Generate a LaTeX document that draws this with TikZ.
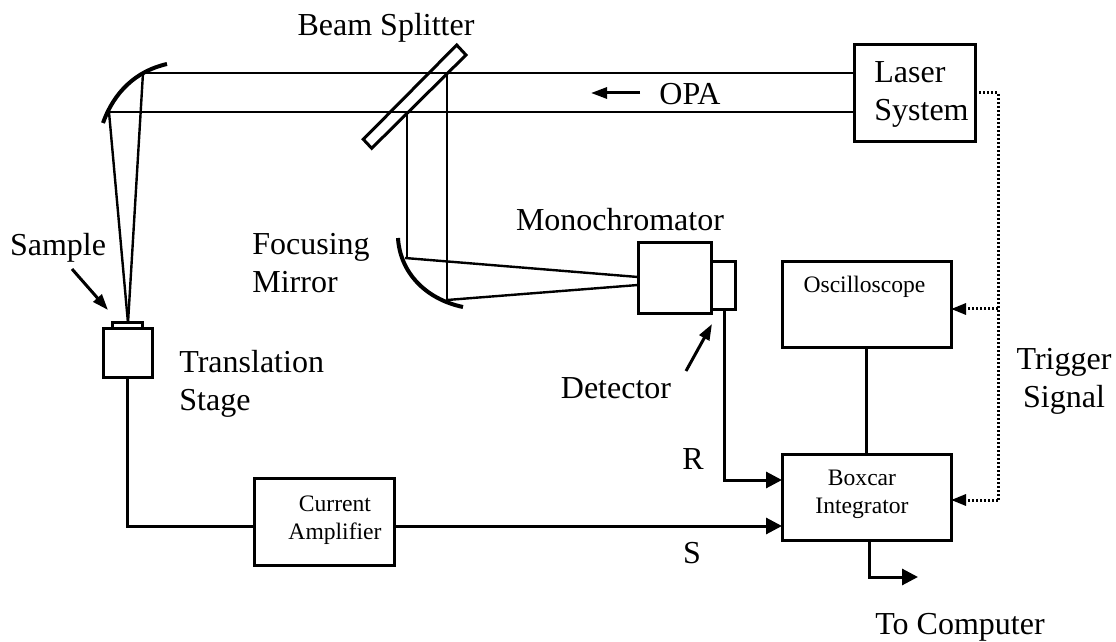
\documentclass[tikz,border=0pt]{standalone}
\usepackage{fontspec}
\setmainfont{Liberation Serif}
\usetikzlibrary{arrows.meta, positioning, calc}

\begin{document}
\begin{tikzpicture}[
    x=0.5pt, y=-0.5pt,
    node distance=0pt,
    box/.style={draw, line width=1.5pt, inner sep=0pt, outer sep=0pt},
    bigtxt/.style={font=\fontsize{16}{19}\selectfont, align=center, inner sep=0pt},
    smalltxt/.style={font=\fontsize{11.8}{14}\selectfont, align=center, inner sep=0pt},
    beam/.style={line width=1.2pt},
    wire/.style={line width=1.5pt},
    mirror/.style={line width=2pt},
    arr/.style={wire, -{Triangle[length=8pt, width=8pt]}},
    trig/.style={line width=1.5pt, dash pattern=on 1pt off 1pt},
    trigarr/.style={trig, -{Triangle[length=7.5pt, width=5.5pt]}},
    ptr/.style={wire, -{Triangle[length=8pt, width=5.5pt]}},
  ]
  \useasboundingbox (0,0) rectangle (1116,642);
  % boxes
  \node[box, minimum width=24.5pt, minimum height=24.5pt] (stage) at (127.5,353.5) {};
  \node[box, minimum width=15pt, minimum height=3pt, above=0pt of stage] (samp) {};
  \node[box, minimum width=60.5pt, minimum height=48.5pt] (laser) at (914.5,93.5) {};
  \node[box, minimum width=36.5pt, minimum height=35.5pt] (mono) at (674.5,278.5) {};
  \node[box, minimum width=12pt, minimum height=24pt, anchor=south west] (det) at (mono.east |- 0,310) {};
  \node[box, minimum width=84.5pt, minimum height=43pt] (scope) at (866.5,305) {};
  \node[box, minimum width=84.5pt, minimum height=43pt, below=53pt of scope] (boxcar) {};
  \node[box, minimum width=70pt, minimum height=43.5pt] (amp) at (324.5,521.5) {};
  % texts in the boxes
  \node[bigtxt, align=left, anchor=west] (lasertxt) at (874,94) {Laser\\System};
  \node[smalltxt] (scopetxt) at (864.5,287) {Oscilloscope};
  \node[smalltxt] (boxcartxt) at (862,494) {Boxcar\\Integrator};
  \node[smalltxt] (amptxt) at (335,520) {Current\\Amplifier};
  % coordinates of the optics
  \coordinate (m1a) at (143,73);
  \coordinate (m1b) at (109,112);
  \coordinate (m2a) at (405,258);
  \coordinate (m2b) at (447,300);
  \coordinate (spot) at (128,323);
  \coordinate (ma) at (638,277);
  \coordinate (mb) at (638,285);
  \coordinate (cornerR) at (724,480);
  \coordinate (cornerA) at (127.5,526);
  \coordinate (out1) at (869,577);
  \coordinate (outend) at (918,577);
  \coordinate (trigA) at (998,93);
  \coordinate (trigB) at (998,309);
  \coordinate (trigC) at (998,500);
  % mirrors
  \draw[mirror] (103,123) .. controls (114,92) and (136,71) .. (167,64);
  \draw[mirror] (398,238) .. controls (400,272) and (425,299) .. (463,307);
  % splitter
  \draw[wire] (456.7,45) -- (466,55) -- (371.7,148.3) -- (363.3,139.3) -- cycle;
  % beams
  \draw[beam] (m1a) -- (m1a -| laser.west);
  \draw[beam] (m1b) -- (m1b -| laser.west);
  \draw[beam] (m1a) -- (spot);
  \draw[beam] (m1b) -- (spot);
  \draw[beam] (406.7,113) -- (406.7,258);
  \draw[beam] (447,73) -- (m2b);
  \draw[beam] (m2a) -- (ma);
  \draw[beam] (m2b) -- (mb);
  % signals
  \draw[wire] (stage.south) -- (cornerA) -- (amp.west |- cornerA);
  \draw[arr] (amp.east |- cornerA) -- (boxcar.west |- cornerA);
  \draw[arr] (det.south -| cornerR) -- (cornerR) -- (boxcar.west |- cornerR);
  \draw[wire] (scope.south) -- (boxcar.north);
  \draw[arr] (boxcar.south -| out1) -- (out1) -- (outend);
  \draw[trig] (laser.east |- trigA) -- (trigA) -- (trigC);
  \draw[trigarr] (trigB) -- (scope.east |- trigB);
  \draw[trigarr] (trigC) -- (boxcar.east |- trigC);
  % pointers
  \coordinate (opaA) at (640,93);
  \coordinate (opaB) at (591,93);
  \draw[ptr] (opaA) -- (opaB);
  \coordinate (sampA) at (72,269);
  \coordinate (sampB) at (108,310);
  \draw[ptr] (sampA) -- (sampB);
  \coordinate (detA) at (686,371);
  \coordinate (detB) at (712,324);
  \draw[ptr] (detA) -- (detB);
  % labels
  \node[bigtxt] (lsplit) at (386,28) {Beam Splitter};
  \node[bigtxt] (lopa) at (690,94) {OPA};
  \node[bigtxt] (lsample) at (58,248) {Sample};
  \node[bigtxt, align=left, anchor=west] (lfocus) at (252,263) {Focusing\\Mirror};
  \node[bigtxt] (lmono) at (620,220) {Monochromator};
  \node[bigtxt, align=left, anchor=west] (ltrans) at (179,384) {Translation\\Stage};
  \node[bigtxt] (ldet) at (616,388) {Detector};
  \node[bigtxt] (lr) at (693,459) {R};
  \node[bigtxt] (ls) at (692,553) {S};
  \node[bigtxt] (ltrig) at (1064,381) {Trigger\\Signal};
  \node[bigtxt] (lcomp) at (960,627) {To Computer};
\end{tikzpicture}
\end{document}
